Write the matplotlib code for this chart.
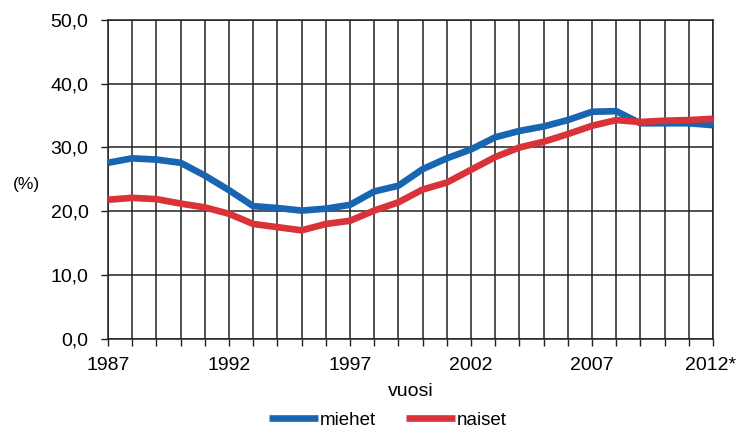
import matplotlib
matplotlib.use("Agg")
import matplotlib.pyplot as plt
import matplotlib.transforms as mtransforms

years = list(range(1987, 2013))
miehet = [27.6, 28.3, 28.1, 27.6, 25.6, 23.3, 20.8, 20.5, 20.1, 20.4, 21.0, 23.1, 24.0,
          26.6, 28.3, 29.7, 31.6, 32.6, 33.3, 34.3, 35.6, 35.7, 33.8, 33.8, 33.8, 33.5]
naiset = [21.8, 22.1, 21.9, 21.2, 20.6, 19.6, 18.0, 17.5, 17.0, 18.0, 18.5, 20.1, 21.4,
          23.4, 24.5, 26.5, 28.5, 30.0, 30.9, 32.1, 33.4, 34.3, 34.0, 34.2, 34.3, 34.5]
series_names = ["miehet", "naiset"]
xtick_years = [1987, 1992, 1997, 2002, 2007, 2012]
xtick_labels = ["1987", "1992", "1997", "2002", "2007", "2012*"]
yticks = [0, 10, 20, 30, 40, 50]
ytick_labels = ["0,0", "10,0", "20,0", "30,0", "40,0", "50,0"]

plt.rcParams['font.family'] = ['Liberation Sans', 'DejaVu Sans']
FS = 14

fig = plt.figure(figsize=(7.41, 4.30), dpi=100)
ax = fig.add_axes([108/741, 1-338.7/430, (713-108)/741, (338.7-20)/430])

blue = '#1866b2'
red = '#da3239'
ax.plot(years, miehet, color=blue, lw=4.8, solid_capstyle='butt', label=series_names[0], zorder=3)
ax.plot(years, naiset, color=red, lw=4.8, solid_capstyle='butt', label=series_names[1], zorder=4)

ax.set_xlim(1987, 2012)
ax.set_ylim(0, 50)
ax.set_xticks(years)
ax.set_xticklabels([xtick_labels[xtick_years.index(y)] if y in xtick_years else "" for y in years],
                   fontsize=FS)
ax.set_yticks(yticks)
ax.set_yticklabels(ytick_labels, fontsize=FS)
ax.tick_params(axis='both', direction='out', length=5, width=1, color='#222222')
ax.tick_params(axis='y', pad=9)
ax.tick_params(axis='x', pad=8.5)
ax.grid(True, color='#222222', lw=1.1)
ax.set_axisbelow(True)
for s in ax.spines.values():
    s.set_color('#222222')
    s.set_linewidth(1.1)

# shift last label so it stays inside the figure
lbls = ax.get_xticklabels()
last = lbls[-1]
last.set_horizontalalignment('right')
last.set_transform(last.get_transform() + mtransforms.ScaledTranslation(23/100, 0, fig.dpi_scale_trans))

ax.set_xlabel("vuosi", fontsize=FS, labelpad=6)
fig.text(26/741, 1-184/430, "(%)", fontsize=FS-1.5, ha='center', va='center')

fig.legend(loc='center', bbox_to_anchor=(388/741, 1-420/430), ncol=2, frameon=False,
           fontsize=FS-0.5, handlelength=2.6, handletextpad=0.1, columnspacing=1.6,
           borderpad=0, borderaxespad=0)

fig.savefig("out.png", dpi=100)
